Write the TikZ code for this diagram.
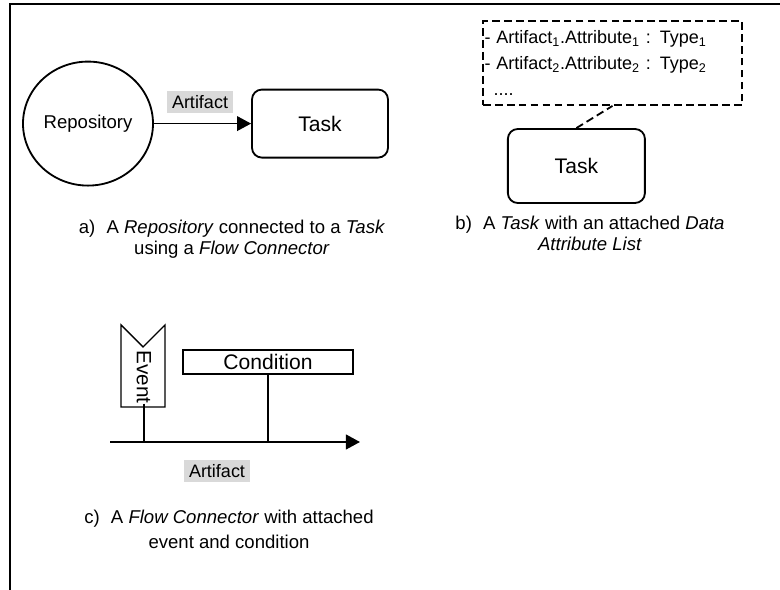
\documentclass[tikz,border=0pt]{standalone}
\usepackage{fontspec}
\setmainfont{Liberation Sans}
\usetikzlibrary{arrows.meta, shapes.geometric}
\tikzset{every node/.style={align=center}}
\tikzset{flow/.style={line width=1pt, black, -{Triangle[length=10pt, width=10.5pt]}}}
\tikzset{line/.style={line width=1pt, black}}
\tikzset{lined/.style={line width=1.3pt, black, dash pattern=on 5.5pt off 3pt}}
\tikzset{task/.style={draw, line width=1.3pt, rounded corners=7pt, font=\fontsize{15}{18}\selectfont}}
\tikzset{artlabel/.style={fill=black!15, inner xsep=3.5pt, inner ysep=0pt, minimum height=15pt, font=\fontsize{12.8}{15}\selectfont}}
\tikzset{captext/.style={font=\fontsize{13.2}{15}\selectfont}}
\tikzset{attrlist/.style={draw, lined, minimum width=6.475cm, minimum height=2.1cm, text width=6.4cm, align=left, inner xsep=0.04cm, font=\fontsize{12.8}{18.5}\selectfont}}

\begin{document}
\begin{tikzpicture}
	% Bounding box
	\useasboundingbox (0,0) rectangle (19.5,14.75);

	% Frame
	\draw[line width=1.4pt] (0.25,0) -- (0.25,14.65) -- (19.5,14.65);

	% a) Repository and Task
	\node[draw, ellipse, line width=1.3pt, minimum width=3.25cm, minimum height=3.1cm, inner sep=0pt, font=\fontsize{13.2}{15}\selectfont] (repo) at (2.2,11.66) {Repository};
	\node[task, minimum width=3.4cm, minimum height=1.7cm] (taskA) at (8.0,11.66) {Task};
	\draw[flow] (repo) -- (taskA);
	%% Node
	\node[artlabel] (artA) at (5.0,12.2) {Artifact};
	\node[captext] (capA) at (5.8,8.76) {a)\hspace{0.6em}A \textit{Repository} connected to a \textit{Task}\\ using a \textit{Flow Connector}};

	% b) Task with attribute list
	\node[attrlist] (attr) at (15.3125,13.175) {- Artifact\textsubscript{1}.Attribute\textsubscript{1} : Type\textsubscript{1}\\- Artifact\textsubscript{2}.Attribute\textsubscript{2} : Type\textsubscript{2}\\\hspace{0.5em}....};
	\node[task, minimum width=3.425cm, minimum height=1.85cm] (taskB) at (14.41,10.6) {Task};
	%% Dashed
	\draw[lined] (taskB.north) -- (attr.south);
	%% Node
	\node[captext] (capB) at (14.75,8.91) {b)\hspace{0.6em}A \textit{Task} with an attached \textit{Data}\\ \textit{Attribute List}};

	% c) Flow connector
	\coordinate (F1) at (2.75,3.7);
	\coordinate (F2) at (9.0,3.7);
	\draw[flow, line width=1.3pt] (F1) -- (F2);
	%% Event
	\draw[line] (3.025,6.625) -- (3.575,6.075) -- (4.125,6.625) -- (4.125,4.575) -- (3.025,4.575) -- cycle;
	\node[rotate=-90, inner sep=0pt, font=\fontsize{14.7}{18}\selectfont] (event) at (3.6,5.325) {Event};
	\draw[line] (event.east) -- (event.east |- F1);
	%% Condition
	\node[draw, line width=1pt, minimum width=4.25cm, minimum height=0.6cm, inner sep=0pt, font=\fontsize{15}{18}\selectfont] (cond) at (6.7,5.7) {Condition};
	\draw[line] (cond.south) -- (cond.south |- F1);
	%% Node
	\node[artlabel] (artC) at (5.425,2.975) {Artifact};
	\node[captext, font=\fontsize{13.2}{18}\selectfont] (capC) at (5.725,1.51) {c)\hspace{0.6em}A \textit{Flow Connector} with attached\\ event and condition};
\end{tikzpicture}
\end{document}
